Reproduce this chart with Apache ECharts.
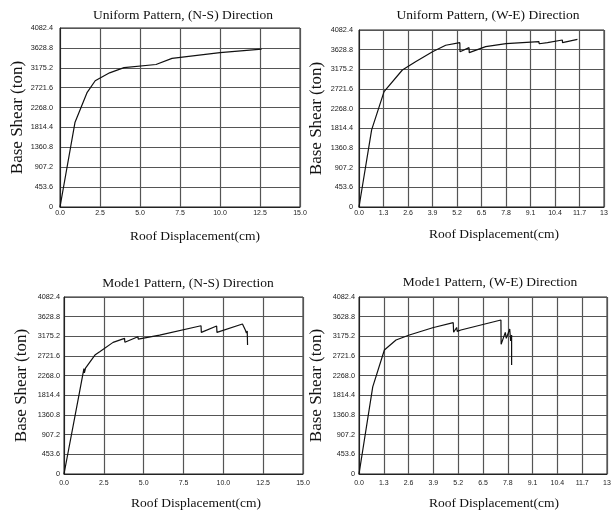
<!DOCTYPE html>
<html><head><meta charset="utf-8">
<script src="https://cdn.jsdelivr.net/npm/echarts@6/dist/echarts.min.js"></script>
<style>html,body{margin:0;padding:0;background:#fff}#c{width:612px;height:511px}</style>
</head><body><div id="c"></div>
<script>
// ---- tick labels ----
const yTickLabels = ['0','453.6','907.2','1360.8','1814.4','2268.0','2721.6','3175.2','3628.8','4082.4'];
const xTicksNS = ['0.0','2.5','5.0','7.5','10.0','12.5','15.0'];
const xTicksWE = ['0.0','1.3','2.6','3.9','5.2','6.5','7.8','9.1','10.4','11.7','13'];
const titles = ['Uniform Pattern, (N-S) Direction','Uniform Pattern, (W-E) Direction','Mode1 Pattern, (N-S) Direction','Mode1 Pattern, (W-E) Direction'];
const xName = 'Roof Displacement(cm)';
const yName = 'Base Shear (ton)';

// ---- series values (displacement cm, base shear ton) ----
const uniformNS_x = [0, 0.94, 1.7, 2.2, 3.1, 4.0, 6.0, 7.0, 10.0, 12.6];
const uniformNS_y = [0, 1935, 2615, 2880, 3060, 3180, 3250, 3390, 3520, 3600];

const uniformWE_x = [0, 0.67, 1.33, 2.3, 3.0, 3.9, 4.6, 5.35, 5.36, 5.84, 5.85, 6.72, 7.8, 9.55, 9.56, 10.0, 10.79, 10.8, 11.59];
const uniformWE_y = [0, 1780, 2660, 3160, 3350, 3580, 3730, 3790, 3580, 3675, 3560, 3700, 3770, 3812, 3765, 3790, 3851, 3790, 3867];

const mode1NS_x = [0, 0.98, 1.25, 1.28, 1.35, 1.94, 2.24, 3.08, 3.8, 3.82, 4.64, 4.66, 6.0, 8.6, 8.62, 9.58, 9.6, 11.2, 11.38, 11.42, 11.45, 11.5, 11.52];
const mode1NS_y = [0, 1900, 2430, 2330, 2440, 2744, 2820, 3036, 3129, 3040, 3167, 3110, 3205, 3420, 3267, 3413, 3267, 3459, 3321, 3350, 3250, 3300, 2975];

const mode1WE_x = [0, 0.72, 1.33, 1.94, 2.64, 3.86, 4.94, 4.96, 5.12, 5.15, 5.34, 7.44, 7.45, 7.67, 7.72, 7.9, 7.95, 8.0, 8.0];
const mode1WE_y = [0, 2010, 2860, 3090, 3205, 3374, 3490, 3270, 3380, 3290, 3321, 3551, 2990, 3267, 3129, 3344, 3067, 3205, 2513];

const zip = (a, b) => a.map((v, i) => [v, b[i]]);

const serif = '"Liberation Serif","Times New Roman",serif';
const sans = '"Liberation Sans",Arial,sans-serif';

const grids = [
  {left: 60, top: 28, width: 240, height: 179},
  {left: 359, top: 30, width: 245, height: 177},
  {left: 64, top: 297, width: 239, height: 177},
  {left: 359, top: 297, width: 248, height: 177}
];
const ySteps = 453.6;
const xCfg = [
  {ticks: xTicksNS, step: 2.5, max: 15, lblMargin: 3, nameGap: 22, pad: 30, ylm: 7},
  {ticks: xTicksWE, step: 1.3, max: 13, lblMargin: 3, nameGap: 20, pad: 25, ylm: 6},
  {ticks: xTicksNS, step: 2.5, max: 15, lblMargin: 6, nameGap: 22, pad: 25, ylm: 4},
  {ticks: xTicksWE, step: 1.3, max: 13, lblMargin: 6, nameGap: 22, pad: 22, ylm: 4}
];
const datasets = [zip(uniformNS_x, uniformNS_y), zip(uniformWE_x, uniformWE_y), zip(mode1NS_x, mode1NS_y), zip(mode1WE_x, mode1WE_y)];
const titlePos = [[183, 15], [488, 15], [188, 283], [490, 282]];

const chart = echarts.init(document.getElementById('c'), null, {renderer: 'canvas'});
chart.setOption({
  animation: false,
  backgroundColor: '#fff',
  grid: grids.map(g => Object.assign({containLabel: false, outerBoundsMode: 'none', show: true, borderColor: '#222', borderWidth: 1, backgroundColor: 'transparent'}, g)),
  xAxis: xCfg.map((c, i) => ({
    type: 'value', gridIndex: i, min: 0, max: c.max, interval: c.step,
    name: xName, nameLocation: 'middle', nameGap: c.nameGap,
    nameTextStyle: {fontFamily: serif, fontSize: 13.5, color: '#111', padding: [0, 0, 0, c.pad]},
    axisLine: {show: true, lineStyle: {color: '#222', width: 1}},
    axisTick: {show: false},
    axisLabel: {margin: c.lblMargin, fontFamily: sans, fontSize: 7, color: '#222', showMaxLabel: true, showMinLabel: true,
      formatter: v => c.ticks[Math.round(v / c.step)]},
    splitLine: {show: true, lineStyle: {color: '#555', width: 1.2}}
  })),
  yAxis: xCfg.map((c, i) => ({
    type: 'value', gridIndex: i, min: 0, max: 4082.4, interval: ySteps,
    name: yName, nameLocation: 'middle', nameGap: 34,
    nameTextStyle: {fontFamily: serif, fontSize: 17, color: '#111'},
    axisLine: {show: true, lineStyle: {color: '#222', width: 1}},
    axisTick: {show: false},
    axisLabel: {margin: c.ylm, fontFamily: sans, fontSize: 7.3, color: '#222', showMaxLabel: true, showMinLabel: true,
      formatter: v => yTickLabels[Math.round(v / ySteps)]},
    splitLine: {show: true, lineStyle: {color: '#555', width: 1.2}}
  })),
  series: datasets.map((d, i) => ({
    type: 'line', xAxisIndex: i, yAxisIndex: i, data: d, showSymbol: false, symbol: 'none',
    lineStyle: {color: '#111', width: 1.2}, silent: true
  })),
  graphic: titles.map((t, i) => ({
    type: 'text', x: titlePos[i][0], y: titlePos[i][1],
    style: {text: t, font: '13.5px ' + serif, fill: '#111', textAlign: 'center', textVerticalAlign: 'middle'}
  }))
});
</script></body></html>
